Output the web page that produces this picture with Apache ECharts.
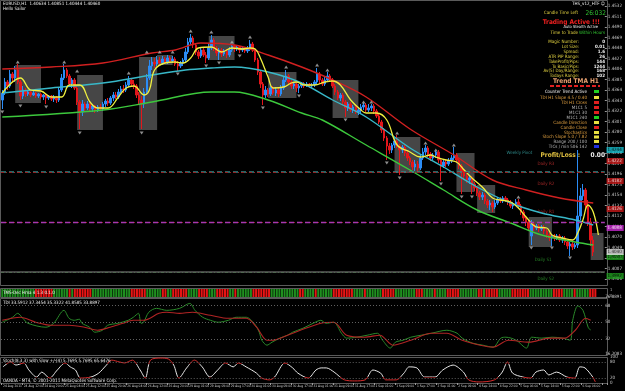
<!DOCTYPE html>
<html>
<head>
<meta charset="utf-8">
<script src="https://cdn.jsdelivr.net/npm/echarts@6/dist/echarts.min.js"></script>
<style>
html,body{margin:0;padding:0;background:#000}
#chart{width:625px;height:391px}
</style>
</head>
<body>
<div id="chart"></div>
<script>
// EURUSD H1, prices kept in pips (1.4358 -> 4358)
const timeLabels = ['24 Aug 2011','24 Aug 12:00','24 Aug 20:00','25 Aug 04:00','25 Aug 12:00','25 Aug 20:00',
  '26 Aug 04:00','26 Aug 12:00','26 Aug 20:00','29 Aug 01:00','29 Aug 09:00','29 Aug 17:00','30 Aug 01:00',
  '30 Aug 09:00','30 Aug 17:00','31 Aug 01:00','31 Aug 09:00','31 Aug 17:00','1 Sep 01:00','1 Sep 09:00',
  '1 Sep 17:00','2 Sep 01:00','2 Sep 09:00','4 Sep 14:00','4 Sep 22:00','5 Sep 06:00','5 Sep 14:00',
  '5 Sep 22:00','6 Sep 06:00'];

// [open, close, low, high]
const ohlcPips = [
[4344,4358,4326,4364],[4358,4380,4354,4388],[4380,4372,4364,4384],[4372,4396,4368,4404],[4396,4388,4380,4400],
[4388,4404,4380,4412],[4404,4380,4376,4416],[4380,4352,4344,4384],[4352,4364,4346,4372],[4364,4356,4350,4368],
[4356,4360,4352,4364],[4360,4354,4350,4362],[4354,4358,4352,4362],[4358,4352,4348,4360],[4352,4356,4348,4358],
[4356,4350,4346,4358],[4350,4354,4344,4356],[4354,4348,4336,4356],[4348,4352,4344,4354],[4352,4346,4342,4354],
[4346,4350,4340,4354],[4350,4344,4338,4352],[4344,4364,4340,4368],[4364,4388,4360,4396],[4388,4404,4384,4416],
[4404,4392,4388,4408],[4392,4376,4372,4396],[4376,4384,4368,4388],[4384,4368,4364,4388],[4368,4340,4334,4372],
[4340,4320,4286,4344],[4320,4336,4312,4344],[4336,4328,4322,4340],[4328,4336,4324,4342],[4336,4326,4320,4338],
[4326,4332,4320,4336],[4332,4324,4318,4334],[4324,4330,4320,4334],[4330,4326,4322,4336],[4326,4336,4322,4340],
[4336,4342,4330,4346],[4342,4338,4332,4348],[4338,4348,4334,4352],[4348,4354,4342,4360],[4354,4350,4346,4360],
[4350,4360,4346,4366],[4360,4366,4354,4372],[4366,4364,4358,4374],[4364,4374,4360,4380],[4374,4384,4370,4392],
[4384,4376,4372,4388],[4376,4372,4366,4384],[4372,4354,4348,4376],[4354,4344,4336,4360],[4344,4336,4286,4352],
[4336,4360,4328,4368],[4360,4388,4354,4396],[4388,4412,4384,4424],[4412,4420,4404,4430],[4420,4416,4408,4428],
[4416,4424,4412,4432],[4424,4418,4412,4430],[4418,4426,4414,4432],[4426,4420,4416,4430],[4420,4428,4416,4434],
[4428,4422,4418,4432],[4422,4426,4418,4432],[4426,4416,4412,4430],[4416,4412,4402,4422],[4412,4418,4408,4422],
[4418,4424,4412,4428],[4424,4440,4420,4448],[4440,4460,4436,4468],[4460,4468,4454,4476],[4468,4454,4448,4472],
[4454,4440,4434,4458],[4440,4432,4426,4444],[4432,4444,4428,4450],[4444,4434,4430,4448],[4434,4428,4418,4440],
[4428,4448,4424,4456],[4448,4464,4444,4474],[4464,4448,4442,4468],[4448,4438,4432,4452],[4438,4444,4424,4448],
[4444,4436,4430,4448],[4436,4442,4432,4446],[4442,4434,4428,4446],[4434,4444,4430,4450],[4444,4452,4440,4456],
[4452,4446,4440,4454],[4446,4450,4442,4454],[4450,4444,4438,4452],[4444,4448,4440,4452],[4448,4442,4438,4450],
[4442,4446,4438,4452],[4446,4456,4442,4464],[4456,4444,4440,4460],[4444,4424,4420,4448],[4424,4400,4394,4428],
[4400,4376,4368,4404],[4376,4354,4334,4380],[4354,4364,4348,4372],[4364,4356,4350,4368],[4356,4368,4352,4372],
[4368,4358,4354,4372],[4358,4364,4352,4370],[4364,4356,4350,4368],[4356,4368,4352,4374],[4368,4384,4364,4392],
[4384,4392,4380,4404],[4392,4380,4374,4396],[4380,4372,4366,4384],[4372,4376,4366,4380],[4376,4368,4360,4380],
[4368,4372,4358,4376],[4372,4376,4368,4380],[4376,4372,4368,4380],[4372,4376,4370,4380],[4376,4372,4368,4378],
[4372,4374,4368,4378],[4374,4380,4370,4384],[4380,4396,4376,4408],[4396,4384,4376,4400],[4384,4376,4372,4388],
[4376,4384,4372,4392],[4384,4392,4380,4400],[4392,4384,4380,4396],[4384,4372,4368,4388],[4372,4360,4354,4376],
[4360,4348,4344,4364],[4348,4354,4342,4358],[4354,4340,4334,4358],[4340,4328,4310,4344],[4328,4336,4322,4340],
[4336,4324,4320,4340],[4324,4330,4318,4334],[4330,4320,4316,4334],[4320,4324,4314,4328],[4324,4330,4318,4336],
[4330,4334,4324,4338],[4334,4324,4320,4338],[4324,4328,4320,4336],[4328,4332,4322,4336],[4332,4322,4316,4336],
[4322,4312,4308,4326],[4312,4300,4296,4316],[4300,4284,4278,4304],[4284,4268,4262,4288],[4268,4252,4224,4272],
[4252,4244,4236,4258],[4244,4254,4238,4258],[4254,4262,4248,4270],[4262,4252,4248,4274],[4252,4244,4194,4256],
[4244,4250,4238,4254],[4250,4238,4232,4254],[4238,4228,4222,4242],[4228,4220,4214,4232],[4220,4210,4204,4224],
[4210,4216,4202,4224],[4216,4208,4200,4222],[4208,4228,4204,4236],[4228,4240,4224,4248],[4240,4248,4234,4254],
[4248,4236,4230,4252],[4236,4228,4222,4240],[4228,4234,4224,4238],[4234,4240,4228,4242],[4240,4224,4218,4244],
[4224,4212,4182,4228],[4212,4220,4208,4224],[4220,4216,4210,4224],[4216,4222,4212,4228],[4222,4228,4218,4234],
[4228,4234,4224,4250],[4234,4224,4218,4238],[4224,4212,4206,4228],[4212,4200,4156,4216],[4200,4192,4184,4204],
[4192,4184,4178,4196],[4184,4188,4176,4194],[4188,4176,4156,4192],[4176,4168,4162,4180],[4168,4158,4152,4172],
[4158,4150,4144,4162],[4150,4154,4144,4160],[4154,4142,4136,4158],[4142,4134,4128,4146],[4134,4138,4124,4144],
[4138,4130,4120,4142],[4130,4138,4126,4144],[4138,4146,4134,4150],[4146,4142,4138,4150],[4142,4148,4138,4152],
[4148,4144,4140,4152],[4144,4140,4134,4148],[4140,4132,4128,4144],[4132,4136,4126,4140],[4136,4140,4132,4146],
[4140,4132,4126,4146],[4132,4120,4114,4136],[4120,4108,4102,4124],[4108,4100,4092,4112],[4100,4088,4082,4104],
[4072,4096,4054,4104],[4096,4088,4082,4100],[4088,4092,4084,4096],[4092,4086,4080,4096],[4086,4090,4082,4094],
[4090,4082,4076,4094],[4082,4074,4068,4086],[4074,4068,4062,4078],[4068,4072,4052,4076],[4072,4068,4062,4076],
[4068,4072,4064,4076],[4072,4064,4060,4076],[4064,4068,4058,4072],[4068,4060,4054,4072],[4060,4052,4046,4064],
[4052,4056,4032,4060],[4056,4050,4044,4060],[4050,4054,4046,4058],[4054,4112,4048,4244],[4112,4152,4104,4168],
[4152,4164,4144,4176],[4164,4134,4124,4168],[4134,4100,4092,4144],[4100,4064,4052,4108],[4064,4040,4032,4072]
];

// moving averages, [bar index, pips]
const redMA = [[0,4406],[19,4410],[39,4418],[58,4438],[67,4444],[77,4458],[90,4454],[103,4434],[116,4410],
  [128,4384],[141,4350],[158,4286],[175,4234],[190,4184],[203,4164],[216,4148],[229,4138]];
const cyanMA = [[0,4358],[19,4368],[39,4378],[58,4394],[71,4404],[81,4408],[90,4410],[103,4400],[116,4378],
  [128,4344],[141,4310],[158,4248],[171,4210],[184,4170],[197,4138],[209,4118],[222,4104],[229,4094]];
const greenMA = [[0,4310],[39,4324],[58,4340],[81,4360],[90,4360],[103,4344],[116,4318],[124,4304],[141,4254],
  [158,4204],[171,4164],[184,4124],[197,4098],[209,4074],[222,4060],[229,4054]];
const yellowMA = [[0,4358],[7,4388],[11,4364],[15,4362],[19,4350],[23,4350],[26,4374],[30,4374],[34,4340],
  [37,4328],[41,4328],[45,4350],[48,4368],[51,4372],[55,4354],[57,4364],[59,4404],[63,4418],[67,4420],[70,4418],
  [73,4428],[76,4448],[81,4450],[85,4440],[89,4448],[93,4446],[96,4448],[98,4446],[100,4428],[103,4390],
  [105,4368],[109,4370],[112,4378],[114,4380],[117,4374],[121,4374],[125,4380],[128,4382],[131,4374],[135,4344],
  [139,4324],[141,4318],[145,4318],[149,4304],[153,4254],[158,4240],[162,4230],[166,4234],[168,4230],[172,4224],
  [176,4220],[179,4204],[182,4188],[186,4170],[190,4148],[193,4144],[197,4140],[200,4128],[203,4110],[207,4090],
  [211,4088],[213,4074],[217,4068],[221,4064],[223,4078],[225,4104],[227,4134],[229,4120],[231,4074]];

// fractal arrows, [bar index, pips]
const fractalUp = [[6,4420],[24,4420],[29,4402],[49,4398],[56,4440],[61,4440],[66,4440],[73,4482],[81,4480],
  [89,4460],[96,4470],[110,4410],[122,4414],[126,4404],[140,4340],[143,4340],[153,4278],[164,4258],[168,4244],
  [175,4254],[200,4150]];
const fractalDown = [[0,4320],[7,4332],[17,4330],[30,4278],[54,4278],[68,4396],[79,4412],[84,4418],[92,4432],
  [101,4328],[115,4352],[133,4304],[149,4218],[154,4188],[170,4176],[178,4150],[182,4150],[205,4048],[213,4048],
  [220,4028]];

// range boxes: [first bar, last bar, top pips, bottom pips]
const boxes = [[5,15,4414,4338],[29,39,4394,4284],[53,60,4430,4284],[60,66,4434,4414],[80,90,4472,4424],
  [103,114,4400,4348],[128,138,4384,4308],[152,162,4270,4198],[176,183,4238,4160],[184,191,4174,4118],
  [204,213,4110,4050],[228,233,4078,4024]];

// pivot levels
const levelNames = ['Weekly Pivot','Daily R3','Daily R2','Daily R1','Daily Pivot','Daily S1','Daily S2'];
const levelPrices = [1.4244, 1.4222, 1.4182, 1.4126, 1.4088, 1.4030, 1.3992];
const bidPrice = 1.4040;

// trend strip runs
const stripRuns = [['G',13],['R',7],['G',6],['R',1],['G',1],['R',7],['G',15],['R',6],['G',6],['R',2],['G',2],
  ['R',6],['G',4],['R',4],['G',3],['R',5],['G',2],['R',1],['G',6],['R',7],['G',11],['R',2],['G',4],['R',1],
  ['G',6],['R',8],['G',4],['R',1],['G',6],['R',5],['G',8],['R',3],['G',4],['R',1],['G',4],['R',5],['G',7],
  ['R',2],['G',1],['R',5],['G',5],['R',7],['G',9],['R',4],['G',4],['R',1],['G',5],['R',3]];

// TDI
const tdiPrice = [[0,50],[4,55.3],[6,59.5],[8,54.2],[10,48.9],[17,44.7],[20,48.9],[24,62.7],[26,54.2],[28,52.1],
  [30,53.2],[31,48.9],[34,44.7],[36,39.4],[39,41.5],[41,46.8],[45,48.9],[49,52.1],[51,55.3],[53,59.5],[54,48.9],
  [55,50],[57,60.6],[60,64.8],[64,62.7],[69,64.8],[73,70.1],[75,62.7],[78,55.3],[81,52.1],[84,50],[88,52.1],
  [91,55.3],[95,55.3],[98,48.9],[100,39.4],[101,30.9],[103,25.6],[105,28.8],[108,33.1],[111,36.2],[113,39.4],
  [117,43.6],[121,48.9],[124,52.1],[126,48.9],[129,50],[132,38.3],[134,33.1],[138,34.1],[142,36.2],[146,38.3],
  [148,30.9],[151,22.5],[153,28.8],[156,30.9],[159,34.1],[163,36.2],[167,38.3],[173,41.5],[177,38.3],[179,33.1],
  [183,27.8],[187,25.6],[191,23.5],[194,33.1],[196,34.1],[200,30.9],[204,22.5],[206,34.1],[210,33.1],[214,34.1],
  [218,33.1],[221,30.9],[222,52.1],[224,67.5],[226,62.7],[228,44.7],[229,41.5]];
const tdiSignal = [[0,52.1],[7,55.3],[13,50],[19,46.8],[26,46.8],[32,44.7],[37,41.5],[42,44.7],[47,48.9],
  [51,52.1],[55,52.1],[61,59.5],[64,60.6],[69,59.5],[74,60.6],[81,57.4],[88,54.2],[95,54.2],[99,44.7],[103,30.9],
  [105,30.9],[111,36.2],[116,41.5],[124,48.9],[129,50],[134,36.2],[141,34.1],[147,36.2],[152,25.6],[159,30.9],
  [167,38.3],[173,38.3],[179,30.9],[186,25.6],[191,23.5],[197,30.9],[205,28.8],[213,33.1],[219,33.1],[223,41.5],
  [227,54.2],[229,52.1]];
const tdiLevels = [68, 50, 32];

// Stochastic
const stoch = [[0,62],[3,81],[5,69],[8,77],[10,50],[13,23],[15,42],[18,19],[21,50],[24,77],[26,62],[28,50],
  [30,19],[34,23],[37,38],[40,69],[42,88],[45,81],[47,77],[50,88],[53,50],[55,19],[57,88],[61,96],[64,92],
  [66,69],[68,19],[71,58],[74,88],[77,62],[80,23],[83,50],[86,77],[89,62],[91,77],[94,62],[98,38],[100,19],
  [103,12],[105,23],[109,77],[112,58],[114,38],[118,19],[121,50],[123,58],[125,58],[128,42],[132,12],[136,8],
  [140,12],[143,50],[146,38],[148,12],[152,12],[155,38],[157,62],[160,58],[163,23],[167,23],[170,50],[174,69],
  [178,42],[180,12],[184,4],[190,12],[193,42],[195,81],[197,38],[201,23],[204,19],[206,42],[209,50],[211,31],
  [214,42],[218,23],[221,19],[223,62],[225,58],[228,23],[229,4]];
const stochLevels = [80, 20];

const SLOTS = 234;
const slots = [];
for (let i = 0; i < SLOTS; i++) slots.push(String(i));

const toPrice = p => 1 + p / 10000;
const candles = ohlcPips.map(r => r.map(toPrice));
const pts = arr => arr.map(d => [d[0], toPrice(d[1])]);
const stripColors = [];
stripRuns.forEach(([c, n]) => { for (let k = 0; k < n; k++) stripColors.push(c); });

const FONT = "'Liberation Sans Narrow','DejaVu Sans Condensed','Liberation Sans',sans-serif";
const L = 1, R = 18;

const levelStyle = [
  {line: {color: '#3a8484', type: [5, 3], width: 1.6}, tag: '#18c0d0', tagText: '#000', text: '#38a8a8', at: 195},
  {line: {color: '#962424', type: [3, 2, 1, 2], width: 1}, tag: '#c81818', tagText: '#fff', text: '#c83030', at: 207},
  {line: {color: '#962424', type: [3, 2, 1, 2], width: 1}, tag: '#c81818', tagText: '#fff', text: '#c83030', at: 207},
  {line: {color: '#962424', type: [3, 2, 1, 2], width: 1}, tag: '#c81818', tagText: '#fff', text: '#c83030', at: 207},
  {line: {color: '#a838b0', type: [5, 3], width: 1.4}, tag: '#c828d0', tagText: '#fff', text: null, at: 207},
  {line: {color: '#2f8a2f', type: [3, 2, 1, 2], width: 1}, tag: '#20a020', tagText: '#000', text: '#30a030', at: 206},
  {line: {color: '#2f8a2f', type: [3, 2, 1, 2], width: 1}, tag: '#20a020', tagText: '#000', text: '#30a030', at: 207}
];

const levelLines = levelPrices.map((v, k) => ({yAxis: v, lineStyle: levelStyle[k].line}));
levelLines.push({yAxis: bidPrice, lineStyle: {color: '#5c5c5c', type: 'solid', width: 1.5}});

// price tags on the right axis
const tagItems = levelPrices.map((v, k) => ({value: [SLOTS - 1, v],
  label: {backgroundColor: levelStyle[k].tag, color: levelStyle[k].tagText}}));
tagItems.push({value: [SLOTS - 1, bidPrice], label: {backgroundColor: '#e8e8e8', color: '#000'}});

const levelTexts = [];
levelPrices.forEach((v, k) => {
  if (levelStyle[k].text) {
    levelTexts.push({name: levelNames[k], value: [levelStyle[k].at, v], label: {color: levelStyle[k].text}});
  }
});

function txt(s, x, y, color, size, align, weight) {
  return {type: 'text', x: x, y: y, z: 50, silent: true,
    style: {text: s, fill: color, fontSize: size || 4.5, fontFamily: FONT, fontWeight: weight || 'normal',
      align: align || 'left', verticalAlign: 'middle'}};
}
function frame(y, h) {
  return {type: 'rect', silent: true, z: 0, shape: {x: 0.5, y: y, width: 607, height: h},
    style: {fill: null, stroke: '#5a5a5a', lineWidth: 1}};
}
function square(y, color) {
  return {type: 'rect', silent: true, z: 50, shape: {x: 594, y: y - 1.5, width: 5, height: 3}, style: {fill: color}};
}

const YEL = '#e0d040', ORG = '#e0a040', GRY = '#b8b8b8', WHT = '#f0f0f0';
const graphics = [
  frame(0.5, 285), frame(288.5, 9), frame(298.5, 57), frame(357.5, 26),
  txt('EURUSD,H1  1.40634 1.40851 1.40444 1.40460', 3, 4, WHT, 4.5),
  txt('Hello Sailor', 3, 9, WHT, 4.5),
  txt('THS_v12_HTF \u263A', 605, 3.5, WHT, 4.5, 'right'),
  txt('Candle Time Left', 578, 13, YEL, 4.5, 'right'),
  txt('26:032', 606, 13, '#30c030', 6.5, 'right'),
  txt('Trading Active !!!', 600, 22, '#f02020', 6.5, 'right', 'bold'),
  txt('Auto Stealth Active', 598, 26.5, WHT, 4, 'right'),
  txt('Time to Trade', 578, 33, YEL, 4.5, 'right'),
  txt('Within Hours', 605, 33, '#30c030', 4.5, 'right'),
  txt('Trend TMA H1', 576, 81, '#e8a070', 6.5, 'center', 'bold'),
  {type: 'line', silent: true, z: 50, shape: {x1: 550, y1: 86, x2: 600, y2: 86},
    style: {stroke: '#e02020', lineWidth: 2, lineDash: [4, 2]}},
  txt('Profit/Loss :', 580, 155, '#e0c040', 6.5, 'right', 'bold'),
  txt('0.00', 605, 155, WHT, 6.5, 'right', 'bold'),
  txt('TMS-Dec Hma 4 1.3 0.1.0', 3, 293, WHT, 4.5),
  txt('TDI 33.5912 37.3454 35.3322 41.8585 33.8897', 3, 303, WHT, 4.5),
  txt('Stoch(8,3,3) with Slow +/-(4) 5.7695 5.7695 65.6476', 3, 361, WHT, 4.5),
  txt('OANDA - MT4, \u00A9 2001-2011 MetaQuotes Software Corp.', 3, 380.5, WHT, 4.5),
  txt('1', 610, 290, GRY, 4), txt('0', 610, 296, GRY, 4)
];
const infoRows = [['Magic Number:', '0', 42], ['Lot Size:', '0.01', 47], ['Spread:', '1.6', 52],
  ['ATR PIP Range:', '26', 57], ['TakeProfit/Pips:', '144', 62], ['To Basic/Pips:', '1244', 66.5],
  ['Av(5) Day/Range:', '168', 71], ['Todays Range:', '102', 76]];
infoRows.forEach(r => {
  graphics.push(txt(r[0], 579, r[2], YEL, 4.5, 'right'));
  graphics.push(txt(r[1], 605, r[2], WHT, 4.5, 'right', 'bold'));
});
const statusRows = [['Counter Trend Active', WHT, '#20d020', 91.5], ['TDI H1 Slope 4.5 / 0.40', ORG, '#e8e040', 97.5],
  ['TDI H1 Cross', ORG, '#e02020', 102.5], ['M1C1 5', GRY, '#e02020', 107.5], ['M1C1 30', GRY, '#e02020', 112.5],
  ['M1C1 240', GRY, '#20d020', 117.5], ['Candle Direction', ORG, '#e8e040', 122.5], ['Candle Close', ORG, '#e02020', 127.5],
  ['Stochastics', ORG, '#e8e040', 132.5], ['Stoch Slope 5.0 / 7.82', ORG, '#e8e040', 137],
  ['Range 200 / 100', GRY, '#e8e040', 141.5], ['TICs / min 506 142', GRY, '#2030e0', 146.5]];
statusRows.forEach(r => {
  graphics.push(txt(r[0], 587, r[3], r[1], 4.5, 'right'));
  graphics.push(square(r[3], r[2]));
});

const hiddenX = gi => ({type: 'category', gridIndex: gi, data: slots, boundaryGap: true,
  axisLine: {show: false}, axisTick: {show: false}, axisLabel: {show: false}, splitLine: {show: false}});
const sideLabel = {fontSize: 4.5, color: '#c8c8c8', fontFamily: FONT, margin: 3};

const chart = echarts.init(document.getElementById('chart'));
chart.setOption({
  backgroundColor: '#000',
  animation: false,
  grid: [
    {left: L, right: R, top: 6, height: 273},
    {left: L, right: R, top: 289, height: 8},
    {left: L, right: R, top: 297, height: 57},
    {left: L, right: R, top: 357, height: 26}
  ],
  xAxis: [hiddenX(0), hiddenX(1), hiddenX(2), {
    type: 'category', gridIndex: 3, data: slots, boundaryGap: true,
    axisLine: {show: false},
    axisTick: {show: true, interval: i => i % 8 === 0, length: 2, lineStyle: {color: '#999'}},
    axisLabel: {show: true, interval: i => i % 8 === 0, formatter: (v, i) => timeLabels[i / 8] || '',
      fontSize: 3.3, color: '#d0d0d0', fontFamily: FONT, margin: 2, align: 'left'},
    splitLine: {show: false}
  }],
  yAxis: [
    {type: 'value', gridIndex: 0, position: 'right', min: 1.3986, max: 1.4532, interval: 0.0021,
      axisLine: {show: false}, axisTick: {show: true, length: 2, lineStyle: {color: '#999'}},
      axisLabel: Object.assign({formatter: v => v.toFixed(4)}, sideLabel), splitLine: {show: false}},
    {type: 'value', gridIndex: 1, min: 0, max: 1, show: false},
    {type: 'value', gridIndex: 2, position: 'right', min: 16.2083, max: 76.8891,
      axisLine: {show: false}, axisTick: {show: false},
      axisLabel: Object.assign({customValues: [16.2083, 32, 50, 68, 76.8891],
        formatter: v => (v % 1 === 0 ? String(v) : v.toFixed(4))}, sideLabel), splitLine: {show: false}},
    {type: 'value', gridIndex: 3, position: 'right', min: 0, max: 100,
      axisLine: {show: false}, axisTick: {show: false},
      axisLabel: Object.assign({customValues: [0, 20, 80, 100]}, sideLabel), splitLine: {show: false}}
  ],
  visualMap: [{type: 'piecewise', show: false, seriesIndex: 11, dimension: 1,
    pieces: [{lt: 25, color: '#d42a2a'}, {gte: 25, lte: 75, color: '#e6e6e6'}, {gt: 75, color: '#d42a2a'}]}],
  series: [
    {type: 'candlestick', xAxisIndex: 0, yAxisIndex: 0, data: candles, barWidth: 2,
      itemStyle: {color: '#2b8cf5', color0: '#e3161b', borderColor: '#2b8cf5', borderColor0: '#e3161b', borderWidth: 1},
      markArea: {silent: true, itemStyle: {color: 'rgba(140,140,140,0.5)'},
        data: boxes.map(b => [{xAxis: String(b[0]), yAxis: toPrice(b[2])}, {xAxis: String(b[1]), yAxis: toPrice(b[3])}])},
      markLine: {silent: true, symbol: 'none', animation: false, label: {show: false}, data: levelLines}},
    {type: 'line', xAxisIndex: 0, yAxisIndex: 0, data: pts(redMA), smooth: 0.35, showSymbol: false,
      lineStyle: {color: '#d02020', width: 1.4}},
    {type: 'line', xAxisIndex: 0, yAxisIndex: 0, data: pts(cyanMA), smooth: 0.35, showSymbol: false,
      lineStyle: {color: '#38b8c8', width: 1.4}},
    {type: 'line', xAxisIndex: 0, yAxisIndex: 0, data: pts(greenMA), smooth: 0.35, showSymbol: false,
      lineStyle: {color: '#3cc83c', width: 1.4}},
    {type: 'line', xAxisIndex: 0, yAxisIndex: 0, data: pts(yellowMA), smooth: 0.4, showSymbol: false,
      lineStyle: {color: '#f0f040', width: 1.3}, z: 4},
    {type: 'scatter', xAxisIndex: 0, yAxisIndex: 0, data: pts(fractalUp), symbol: 'triangle', symbolSize: [4, 3],
      itemStyle: {color: '#b0b0b0'}, z: 5},
    {type: 'scatter', xAxisIndex: 0, yAxisIndex: 0, data: pts(fractalDown), symbol: 'triangle', symbolSize: [4, 3],
      symbolRotate: 180, itemStyle: {color: '#b0b0b0'}, z: 5},
    {type: 'scatter', xAxisIndex: 0, yAxisIndex: 0, data: levelTexts, symbolSize: 0, silent: true,
      label: {show: true, position: 'right', formatter: '{b}', fontSize: 4.5, fontFamily: FONT, offset: [-4, 3]}},
    {type: 'bar', xAxisIndex: 1, yAxisIndex: 1, barWidth: 2, silent: true,
      data: stripColors.map(c => ({value: 1, itemStyle: {color: c === 'G' ? '#1f8f1f' : '#e81414'}}))},
    {type: 'line', xAxisIndex: 2, yAxisIndex: 2, data: tdiPrice, smooth: 0.3, showSymbol: false,
      lineStyle: {color: '#2a8a2a', width: 1},
      markLine: {silent: true, symbol: 'none', label: {show: false},
        lineStyle: {color: '#606060', type: [1, 2], width: 1}, data: tdiLevels.map(v => ({yAxis: v}))}},
    {type: 'line', xAxisIndex: 2, yAxisIndex: 2, data: tdiSignal, smooth: 0.3, showSymbol: false,
      lineStyle: {color: '#b02424', width: 1.1}},
    {type: 'line', xAxisIndex: 3, yAxisIndex: 3, data: stoch, smooth: 0.3, showSymbol: false,
      lineStyle: {width: 1},
      markLine: {silent: true, symbol: 'none', label: {show: false},
        lineStyle: {color: '#606060', type: [1, 2], width: 1}, data: stochLevels.map(v => ({yAxis: v}))}},
    {type: 'scatter', xAxisIndex: 0, yAxisIndex: 0, data: tagItems, symbolSize: 0, silent: true, clip: false, z: 20,
      label: {show: true, position: 'right', distance: 3, formatter: p => p.value[1].toFixed(4), fontSize: 4.5,
        fontFamily: FONT, padding: [1, 2, 0, 1]}}
  ],
  graphic: graphics
});
</script>
</body>
</html>
